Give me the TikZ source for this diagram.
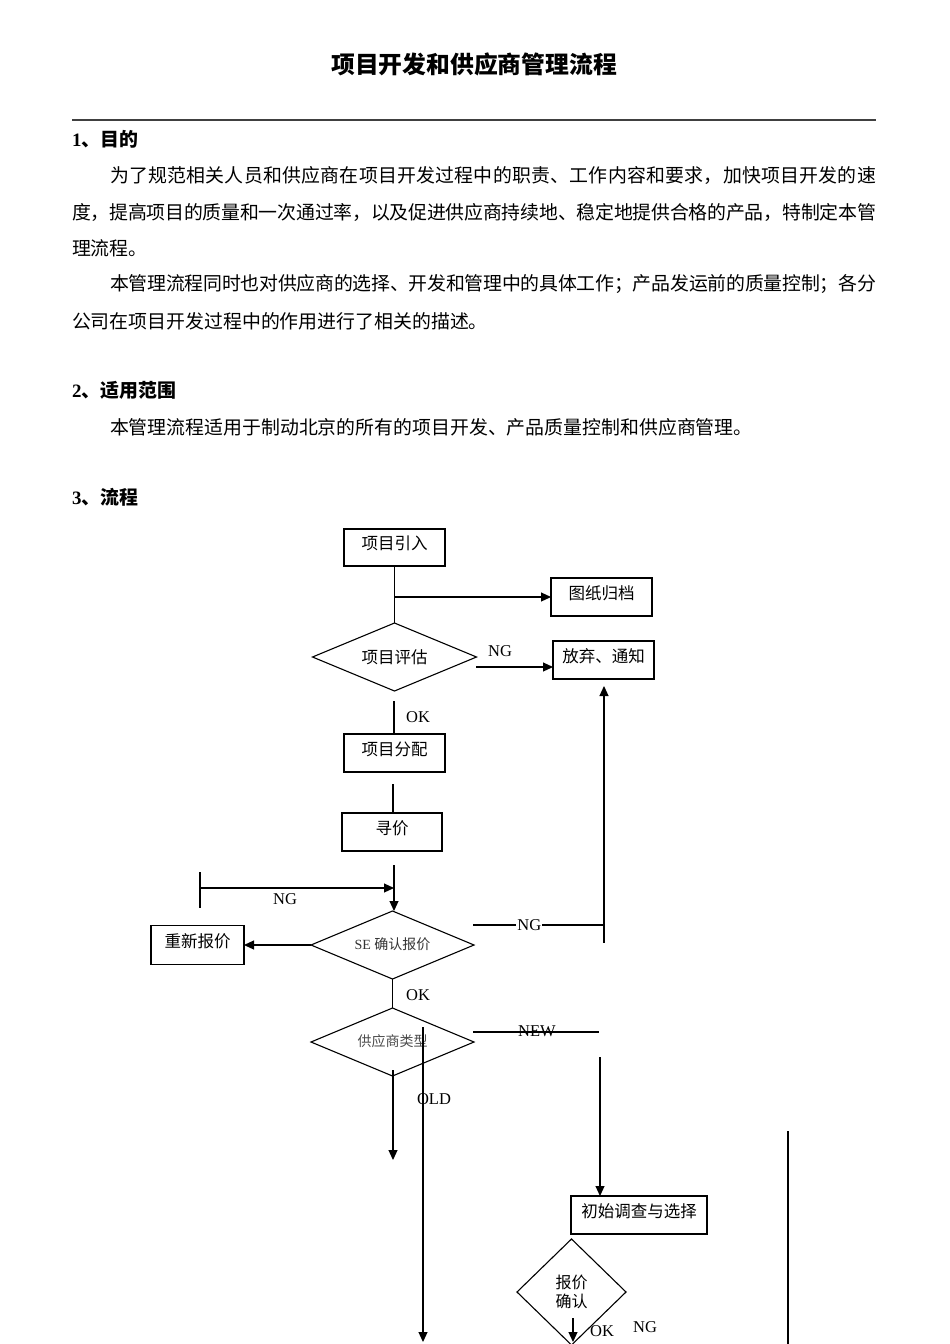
\documentclass[tikz,border=0pt]{standalone}
\usepackage{fontspec}
\usepackage{graphicx}
\setmainfont{Liberation Serif}
\newfontfamily\cjk{Noto Sans CJK SC}
\usetikzlibrary{shapes.geometric,arrows.meta}
\def\jline#1#2{\hbox to #1{\jfirst#2\relax}}
\def\jfirst#1{#1\jrest}
\def\jrest#1{\ifx\relax#1\else\hskip 0pt plus 1fil minus 1pt\relax#1\expandafter\jrest\fi}
\begin{document}
\begin{tikzpicture}[x=1pt,y=-1pt,
  every node/.style={inner sep=0pt, outer sep=0pt},
  body/.style={anchor=west, font=\cjk\fontsize{18.9}{18.9}\selectfont},
  head/.style={anchor=west, font=\bfseries\fontsize{18.9}{18.9}\selectfont},
  fbox/.style={draw, line width=1.1pt, font=\cjk\fontsize{16.5}{16.5}\selectfont, text height=14.5pt, text depth=10pt},
  fdia/.style={draw, diamond, aspect=2.4, line width=1.1pt, inner sep=0pt},
  lbl/.style={font=\fontsize{16.5}{16.5}\selectfont},
  conn/.style={line width=1.1pt},
  arr/.style={conn, -{Triangle[length=10pt,width=9pt]}},
]
\useasboundingbox[fill=white] (0,0) rectangle (950,1344);

% ---- text part ----
\node[font=\cjk\bfseries\fontsize{23.8}{23.8}\selectfont] (title) at (474,64) {项目开发和供应商管理流程};
\draw[line width=1.6pt, black!75] (72,120) -- (876,120);

\node[head] (h1) at (72,139) {1\cjk 、目的};
\node[body] (p1a) at (110,175) {\jline{766pt}{为了规范相关人员和供应商在项目开发过程中的职责、工作内容和要求，加快项目开发的速}};
\node[body] (p1b) at (72,212) {\jline{804pt}{度，提高项目的质量和一次通过率，以及促进供应商持续地、稳定地提供合格的产品，特制定本管}};
\node[body] (p1c) at (72,248) {理流程。};
\node[body] (p2a) at (110,284) {\jline{766pt}{本管理流程同时也对供应商的选择、开发和管理中的具体工作；产品发运前的质量控制；各分}};
\node[body] (p2b) at (72,321) {公司在项目开发过程中的作用进行了相关的描述。};

\node[head] (h2) at (72,390) {2\cjk 、适用范围};
\node[body] (p3) at (110,427) {本管理流程适用于制动北京的所有的项目开发、产品质量控制和供应商管理。};

\node[head] (h3) at (72,497) {3\cjk 、流程};

% ---- flowchart nodes ----
\node[fbox, minimum width=101pt, minimum height=37pt] (b1) at (394.5,547.5) {项目引入};
\node[fbox, minimum width=101pt, minimum height=38pt] (b2) at (601.5,597) {图纸归档};
\node[fdia, minimum width=164pt, minimum height=68pt, font=\cjk\fontsize{16.5}{16.5}\selectfont] (d1) at (394.5,657) {项目评估};
\node[fbox, minimum width=101pt, minimum height=38pt] (b3) at (603.5,660) {放弃、通知};
\node[fbox, minimum width=101pt, minimum height=38pt] (b4) at (394.5,753) {项目分配};
\node[fbox, minimum width=100pt, minimum height=38pt] (b5) at (392,832) {寻价};
\node[fdia, minimum width=163pt, minimum height=68pt, font=\fontsize{14}{14}\selectfont, text=black!80] (d2) at (392.5,945) {\raisebox{3pt}{SE {\cjk 确认报价}}};
\node[fbox, minimum width=93pt, minimum height=39pt] (b6) at (197.5,945) {重新报价};
\node[fdia, minimum width=163pt, minimum height=68pt, font=\cjk\fontsize{14}{14}\selectfont, text=black!70] (d3) at (392.5,1042) {\raisebox{3pt}{供应商类型}};
\node[fbox, minimum width=136pt, minimum height=38pt] (b7) at (639,1215) {初始调查与选择};
\node[fdia, aspect=1, minimum width=109pt, minimum height=106pt, align=center, font=\cjk\fontsize{16}{19.5}\selectfont] (d4) at (571.5,1292) {报价\\确认};

% ---- labels ----
\node[lbl] (lng1) at (500,651) {NG};
\node[lbl] (lok1) at (418,717) {OK};
\node[lbl] (lng2) at (285,899) {NG};
\node[lbl] (lok2) at (418,995) {OK};
\node[lbl] (lold) at (434,1099) {OLD};
\node[lbl] (lok3) at (602,1331) {OK};
\node[lbl] (lng4) at (645,1327) {NG};

% ---- connectors ----
\coordinate (j1) at (b1.south |- b2.west);
\draw[conn] (b1.south) -- (b1.south |- d1.north);
\draw[arr] (j1) -- (b2.west);

\coordinate (n1) at (476,667);
\draw[arr] (n1) -- (n1 -| b3.west);

\coordinate (ok1) at (394,701);
\draw[conn] (ok1) -- (ok1 |- b4.north);

\coordinate (c2) at (393,784);
\draw[conn] (c2) -- (c2 |- b5.north);

\coordinate (c3) at (394,865);
\draw[arr] (c3) -- (c3 |- d2.north);

\coordinate (t1) at (200,872);
\coordinate (t2) at (200,908);
\coordinate (t3) at (200,888);
\draw[conn] (t1) -- (t2);
\draw[arr] (t3) -- (t3 -| c3);

\draw[arr] (d2.west) -- (b6.east);

\coordinate (r1) at (473,925);
\coordinate (r2) at (604,925);
\coordinate (r3) at (604,943);
\coordinate (r4) at (604,686);
\draw[conn] (r1) -- node[pos=0.43, lbl, fill=white, inner xsep=1pt] (lng3) {NG} (r2);
\draw[conn] (r2) -- (r3);
\draw[arr] (r2) -- (r4);

\draw[conn] (d2.south) -- (d3.north);

\coordinate (nw1) at (473,1032);
\coordinate (nw2) at (599,1032);
\draw[conn] (nw1) -- (nw2);
\node[lbl] (lnew) at (537,1031) {NEW};

\coordinate (L1) at (423,1027);
\coordinate (L2) at (423,1342);
\draw[arr] (L1) -- (L2);

\coordinate (o1) at (393,1070);
\coordinate (o2) at (393,1160);
\draw[arr] (o1) -- (o2);

\coordinate (v1) at (600,1057);
\draw[arr] (v1) -- (v1 |- b7.north);

\coordinate (k1) at (573,1318);
\coordinate (k2) at (573,1342);
\draw[arr] (k1) -- (k2);

\coordinate (f1) at (788,1131);
\coordinate (f2) at (788,1344);
\draw[conn] (f1) -- (f2);
\end{tikzpicture}
\end{document}
